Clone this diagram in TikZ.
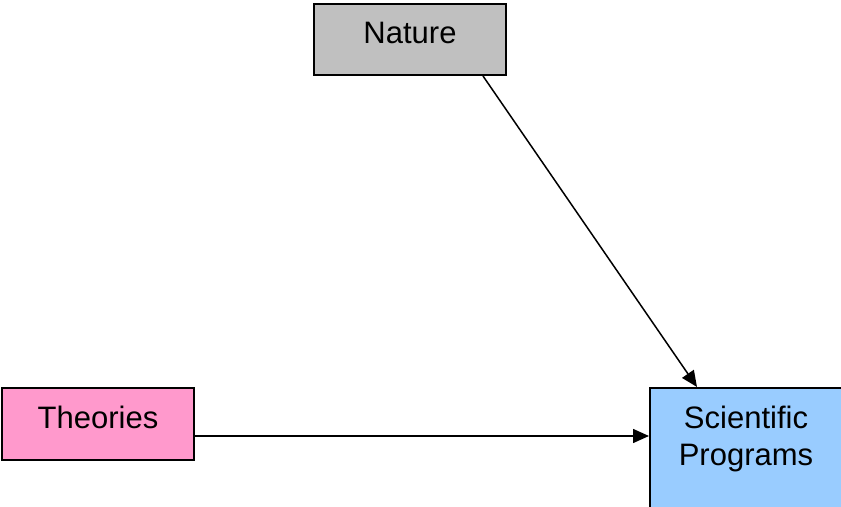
\documentclass[tikz,border=0pt]{standalone}
\usepackage{fontspec}
\setmainfont{Liberation Sans}
\usetikzlibrary{arrows.meta,positioning}
\definecolor{natgray}{HTML}{C0C0C0}
\definecolor{theopink}{HTML}{FF99CC}
\definecolor{progblue}{HTML}{99CCFF}
\begin{document}
\begin{tikzpicture}[x=0.5pt, y=-0.5pt, >={Triangle[length=8pt,width=7pt]},
  font=\fontsize{15.5}{18.5}\selectfont,
  box/.style={draw, line width=1pt, minimum width=96pt, inner sep=0pt},
  link/.style={->, line width=0.75pt}]

\useasboundingbox (0,0) rectangle (841,507);

% ---- the three boxes ----
\node[box, fill=natgray, minimum height=35.5pt,
      label={[yshift=3.5pt]center:Nature}] (nature) at (410, 39.5) {};
\node[box, fill=theopink, minimum height=36pt,
      label={[yshift=3.5pt]center:Theories}] (theories) at (98, 424) {};
\node[box, fill=progblue, minimum height=62pt,
      label={[yshift=5.5pt, align=center]center:Scientific\\Programs}] (program) at (746, 450) {};

% ---- arrows into the programs ----
\draw[link] ([xshift=36.5pt]nature.south) -- ([xshift=-24.5pt]program.north);
\draw[link] ([yshift=-6pt]theories.east) -- ([yshift=-6pt]theories.east -| program.west);

\end{tikzpicture}
\end{document}
